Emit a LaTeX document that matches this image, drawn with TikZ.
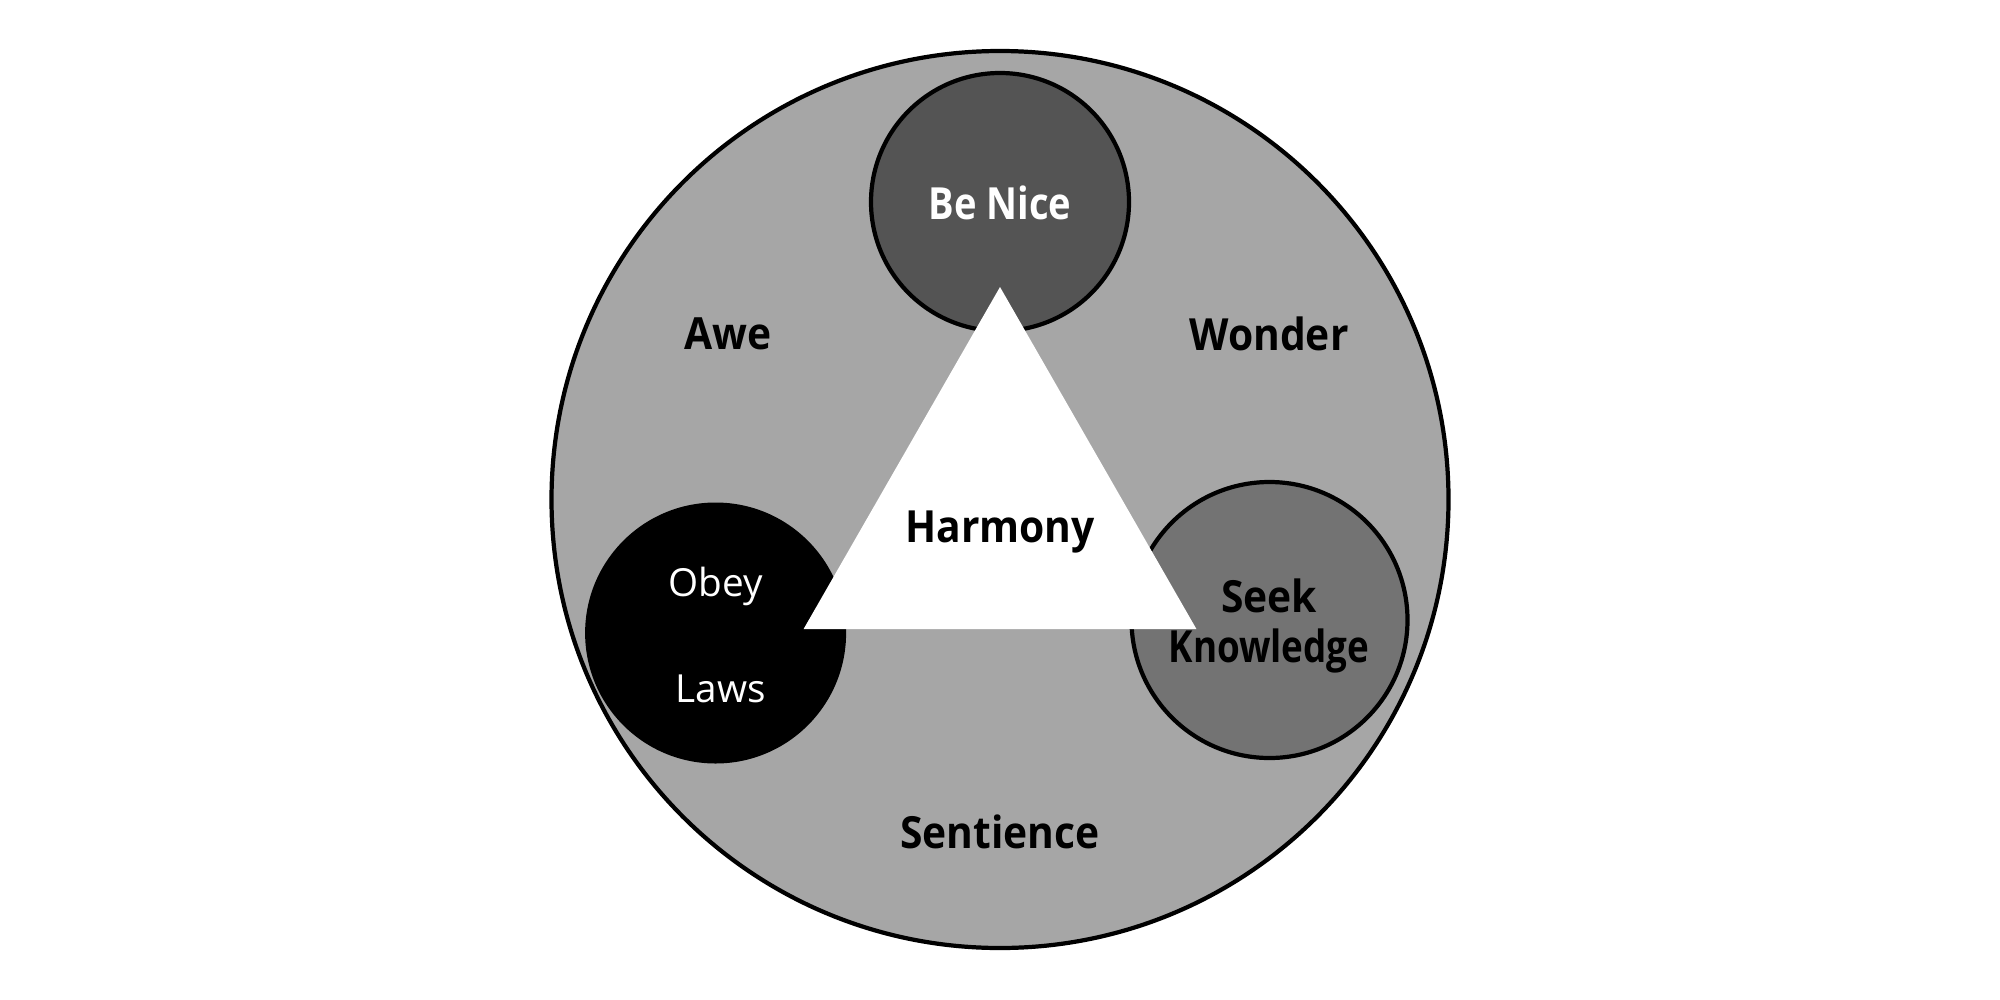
\documentclass[tikz,border=0pt]{standalone}
\usepackage{fontspec}
\setmainfont{Open Sans}
\newfontfamily\narrowbold[FakeStretch=0.92]{Open Sans}
\newfontfamily\narrowerbold[FakeStretch=0.86]{Open Sans}
\newfontfamily\narrowestbold[FakeStretch=0.83]{Open Sans}
\begin{document}
\begin{tikzpicture}[x=0.01cm,y=-0.01cm,
  ring/.style={draw=black,line width=1.2pt},
  lbl/.style={font=\narrowbold\fontsize{12.6pt}{15pt}\selectfont\bfseries,text=black,align=center},
  wlbl/.style={font=\fontsize{11pt}{14pt}\selectfont,text=white,align=center}]
\useasboundingbox (0,0) rectangle (2000,1000);
\fill[white] (0,0) rectangle (2000,1000);
\draw[ring,fill={rgb,255:red,166;green,166;blue,166}] (1000,499.5) circle[radius=448.5];
\draw[ring,fill={rgb,255:red,84;green,84;blue,84}] (1000,202) circle[radius=129];
\draw[ring,fill={rgb,255:red,115;green,115;blue,115}] (1269.5,620) circle[radius=138];
\fill[black] (715.6,633) circle[radius=130.5];
\fill[white] (1000,287) -- (1196.4,629) -- (803.6,629) -- cycle;
\node[lbl,text=white,font=\narrowerbold\fontsize{12.6pt}{15pt}\selectfont\bfseries] (benice) at (1000,203) {Be Nice};
\node[lbl] (awe) at (728,334) {Awe};
\node[lbl] (wonder) at (1269,334) {Wonder};
\node[lbl] (harmony) at (1000,532) {Harmony};
\node[lbl] (sentience) at (1000,832) {Sentience};
\node[wlbl] (obey) at (715.6,586) {Obey};
\node[wlbl] (laws) at (720.7,689) {Laws};
\node[lbl] (seek) at (1269,596) {Seek};
\node[lbl,font=\narrowestbold\fontsize{12.6pt}{15pt}\selectfont\bfseries] (knowledge) at (1269,651) {Knowledge};
\end{tikzpicture}
\end{document}
